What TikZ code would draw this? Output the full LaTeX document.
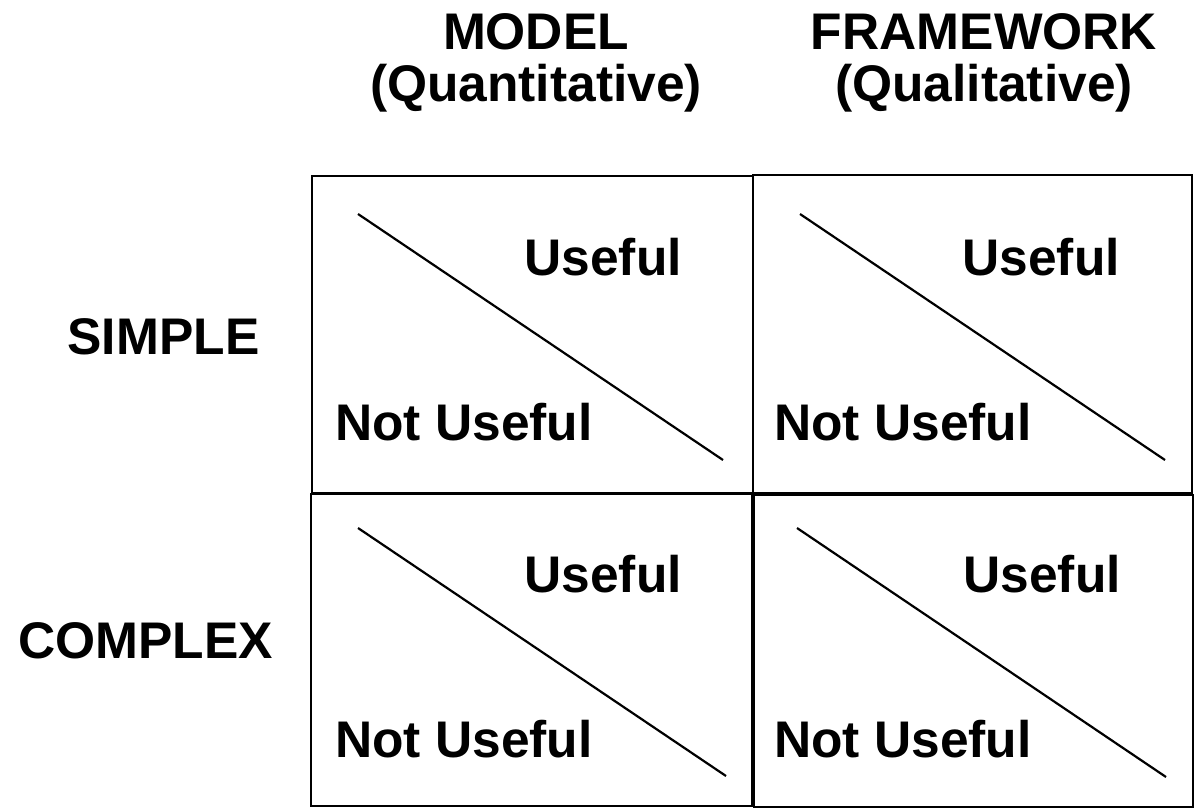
\documentclass[tikz,border=0pt]{standalone}
\usepackage{fontspec}
\setmainfont{Liberation Sans}
\usetikzlibrary{calc,positioning}

\begin{document}
\begin{tikzpicture}[x=1pt,y=1pt]
	\tikzstyle{every node}+=[inner sep=0pt]
	\tikzstyle{cell}=[draw=black, line width=2.4pt, rectangle, outer sep=0pt]
	\tikzstyle{slash}=[black, line width=2.2pt]
	\tikzstyle{lbl}=[font=\fontsize{51.5}{52}\selectfont\bfseries, align=center]
	\useasboundingbox (0,0) rectangle (1195,-808);
	% column heads
	\node [lbl, anchor=north] (model) at (536,-13) {MODEL\\(Quantitative)};
	\node [lbl, anchor=north] (frame) at (984,-13) {FRAMEWORK\\(Qualitative)};
	% row heads
	\node [lbl, anchor=base] (simple) at (163.5,-354) {SIMPLE};
	\node [lbl, anchor=base] (complex) at (145.5,-658) {COMPLEX};
	% cells
	\node [cell, minimum width=441pt, minimum height=317pt] (sm) at (532.5,-334.5) {};
	\node [cell, minimum width=439pt, minimum height=318pt] (sf) at (972.5,-334) {};
	\node [cell, minimum width=441pt, minimum height=312pt] (cm) at (531.5,-650) {};
	\node [cell, minimum width=439pt, minimum height=312pt] (cf) at (973.5,-651) {};
	% diagonals
	\draw [slash] ($(sm.north west)+(46,-38)$) -- ($(sm.south east)+(-30,33)$);
	\draw [slash] ($(sf.north west)+(47,-39)$) -- ($(sf.south east)+(-27,33)$);
	\draw [slash] ($(cm.north west)+(47,-34)$) -- ($(cm.south east)+(-26,30)$);
	\draw [slash] ($(cf.north west)+(43,-33)$) -- ($(cf.south east)+(-27,30)$);
	% labels in the cells
	\node [lbl, anchor=base east] (smu) at ($(sm.north east)+(-71,-99)$) {Useful};
	\node [lbl, anchor=base west] (smn) at ($(sm.south west)+(23,53)$) {Not Useful};
	\node [lbl, anchor=base east] (sfu) at ($(sf.north east)+(-72,-100)$) {Useful};
	\node [lbl, anchor=base west] (sfn) at ($(sf.south west)+(21,53)$) {Not Useful};
	\node [lbl, anchor=base east] (cmu) at ($(cm.north east)+(-70,-98)$) {Useful};
	\node [lbl, anchor=base west] (cmn) at ($(cm.south west)+(24,49)$) {Not Useful};
	\node [lbl, anchor=base east] (cfu) at ($(cf.north east)+(-72,-97)$) {Useful};
	\node [lbl, anchor=base west] (cfn) at ($(cf.south west)+(20,50)$) {Not Useful};
\end{tikzpicture}
\end{document}
